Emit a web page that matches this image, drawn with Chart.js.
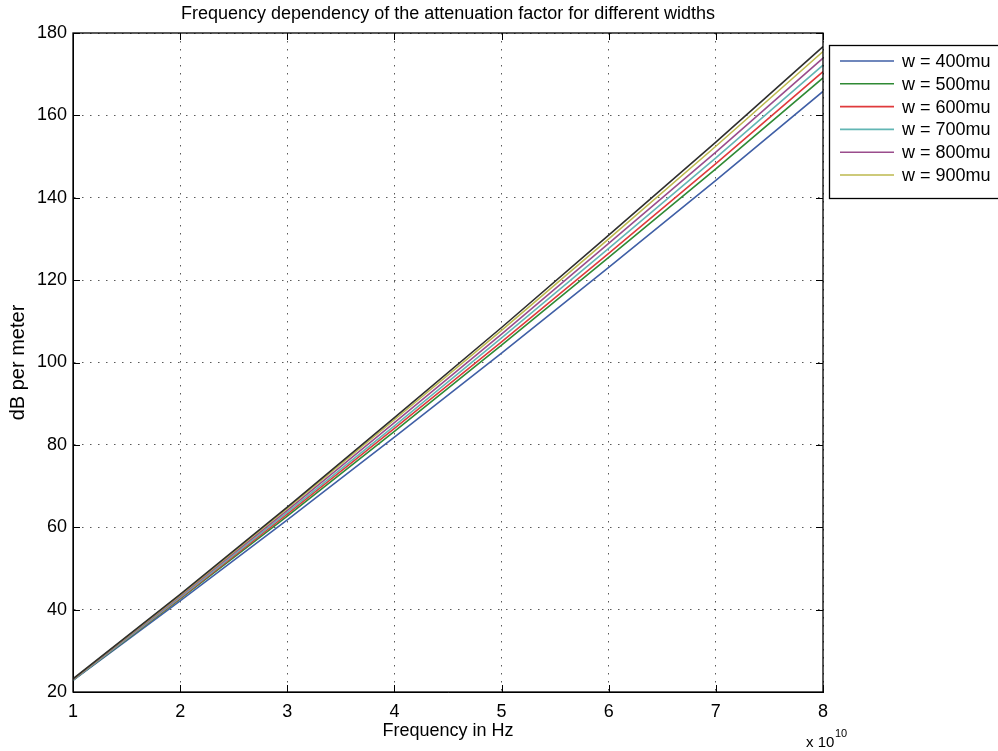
<!DOCTYPE html>
<html>
<head>
<meta charset="utf-8">
<script src="https://cdn.jsdelivr.net/npm/chart.js@4.4.1/dist/chart.umd.min.js"></script>
<style>
  html, body { margin: 0; padding: 0; background: #ffffff; }
  #wrap { width: 998px; height: 751px; }
</style>
</head>
<body>
<div id="wrap"><canvas id="c" width="998" height="751"></canvas></div>
<script>
// Frequency in units of 1e10 Hz
const frequencies = [1, 2, 3, 4, 5, 6, 7, 8];
const xTickValues = [1, 2, 3, 4, 5, 6, 7, 8];
const yTickValues = [20, 40, 60, 80, 100, 120, 140, 160, 180];

const seriesLabels = ['w = 400mu', 'w = 500mu', 'w = 600mu', 'w = 700mu', 'w = 800mu', 'w = 900mu', 'w = 1000mu'];
const w400 = [22.8, 42.1, 61.8, 81.9, 102.3, 123.1, 144.2, 165.8];
const w500 = [22.9, 42.6, 62.7, 83.3, 104.2, 125.5, 147.0, 169.1];
const w600 = [23.0, 42.8, 63.2, 84.0, 105.0, 126.5, 148.3, 170.6];
const w700 = [22.9, 43.0, 63.6, 84.6, 106.0, 127.7, 149.7, 172.2];
const w800 = [23.0, 43.3, 64.1, 85.4, 106.9, 128.9, 151.1, 173.9];
const w900 = [23.1, 43.5, 64.6, 86.1, 107.8, 130.0, 152.5, 175.5];
const w1000 = [23.2, 43.7, 64.9, 86.6, 108.5, 130.9, 153.5, 176.7];
const seriesValues = [w400, w500, w600, w700, w800, w900, w1000];
const seriesColors = ['#3f5fa6', '#2f8a34', '#e03a3c', '#62b6b4', '#9a4d8c', '#bdb94e', '#2e2e2e'];
const legendCount = 6;

const FONT = "'Liberation Sans', Arial, Helvetica, sans-serif";

const datasets = seriesValues.map((vals, i) => ({
  label: seriesLabels[i],
  data: frequencies.map((f, j) => ({ x: f, y: vals[j] })),
  borderColor: seriesColors[i],
  backgroundColor: seriesColors[i],
  borderWidth: 1.6,
  pointRadius: 0,
  tension: 0,
  fill: false,
  order: seriesValues.length - i
}));

const matlabPlugin = {
  id: 'matlabDecor',
  afterDatasetsDraw(chart) {
    const ctx = chart.ctx;
    const a = chart.chartArea;
    const xs = chart.scales.x, ys = chart.scales.y;
    ctx.save();
    ctx.strokeStyle = '#000';
    ctx.lineWidth = 1.3;
    ctx.strokeRect(a.left, a.top, a.right - a.left, a.bottom - a.top);
    ctx.lineWidth = 1;
    ctx.beginPath();
    const tl = 7;
    xTickValues.forEach(v => {
      const px = Math.round(xs.getPixelForValue(v)) + 0.5;
      ctx.moveTo(px, a.bottom); ctx.lineTo(px, a.bottom - tl);
      ctx.moveTo(px, a.top); ctx.lineTo(px, a.top + tl);
    });
    yTickValues.forEach(v => {
      const py = Math.round(ys.getPixelForValue(v)) + 0.5;
      ctx.moveTo(a.left, py); ctx.lineTo(a.left + tl, py);
      ctx.moveTo(a.right, py); ctx.lineTo(a.right - tl, py);
    });
    ctx.stroke();
    ctx.restore();
  },
  afterDraw(chart) {
    const ctx = chart.ctx;
    const a = chart.chartArea;
    ctx.save();
    // Title
    ctx.fillStyle = '#000';
    ctx.font = '18px ' + FONT;
    ctx.textAlign = 'center';
    ctx.textBaseline = 'middle';
    ctx.fillText('Frequency dependency of the attenuation factor for different widths', (a.left + a.right) / 2, 14);
    // Exponent
    ctx.textAlign = 'left';
    ctx.textBaseline = 'alphabetic';
    ctx.font = '15px ' + FONT;
    ctx.fillText('x 10', 806, 747);
    ctx.font = '11px ' + FONT;
    ctx.fillText('10', 835, 737);
    // Legend
    const lx = 829, ly = 45, lw = 200, lh = 153;
    ctx.fillStyle = '#fff';
    ctx.fillRect(lx, ly, lw, lh);
    ctx.strokeStyle = '#000';
    ctx.lineWidth = 1.3;
    ctx.strokeRect(lx + 0.5, ly + 0.5, lw, lh);
    ctx.font = '18px ' + FONT;
    ctx.textBaseline = 'middle';
    ctx.fillStyle = '#000';
    for (let i = 0; i < legendCount; i++) {
      const ds = chart.data.datasets[i];
      const y = ly + 16 + i * 22.8;
      ctx.strokeStyle = ds.borderColor;
      ctx.lineWidth = 1.6;
      ctx.beginPath();
      ctx.moveTo(840, y); ctx.lineTo(894, y);
      ctx.stroke();
      ctx.fillText(ds.label, 902, y + 1);
    }
    ctx.restore();
  }
};

new Chart(document.getElementById('c'), {
  type: 'line',
  data: { datasets },
  plugins: [matlabPlugin],
  options: {
    responsive: false,
    animation: false,
    devicePixelRatio: 1,
    layout: { padding: { left: 0, top: 33, right: 175, bottom: 0 } },
    plugins: { legend: { display: false }, title: { display: false }, tooltip: { enabled: false } },
    scales: {
      x: {
        type: 'linear', min: 1, max: 8,
        afterFit(s) { s.height = 59; },
        afterBuildTicks(s) { s.ticks = xTickValues.map(v => ({ value: v })); },
        ticks: { padding: 9, color: '#000', font: { family: FONT, size: 18 }, maxRotation: 0 },
        grid: { drawTicks: false, color: 'rgba(0,0,0,0.65)', lineWidth: 1 },
        border: { display: true, color: '#000', dash: [1.5, 6.5] },
        title: { display: true, text: 'Frequency in Hz', color: '#000', font: { family: FONT, size: 18 }, padding: { top: 0, bottom: 9 } }
      },
      y: {
        type: 'linear', min: 20, max: 180,
        afterFit(s) { s.width = 73; },
        afterBuildTicks(s) { s.ticks = yTickValues.map(v => ({ value: v })); },
        ticks: { padding: 6, color: '#000', font: { family: FONT, size: 18 } },
        grid: { drawTicks: false, color: 'rgba(0,0,0,0.65)', lineWidth: 1 },
        border: { display: true, color: '#000', dash: [1.5, 6.5] },
        title: { display: true, text: 'dB per meter', color: '#000', font: { family: FONT, size: 20 }, padding: { top: 6, bottom: 0 } }
      }
    }
  }
});
</script>
</body>
</html>
